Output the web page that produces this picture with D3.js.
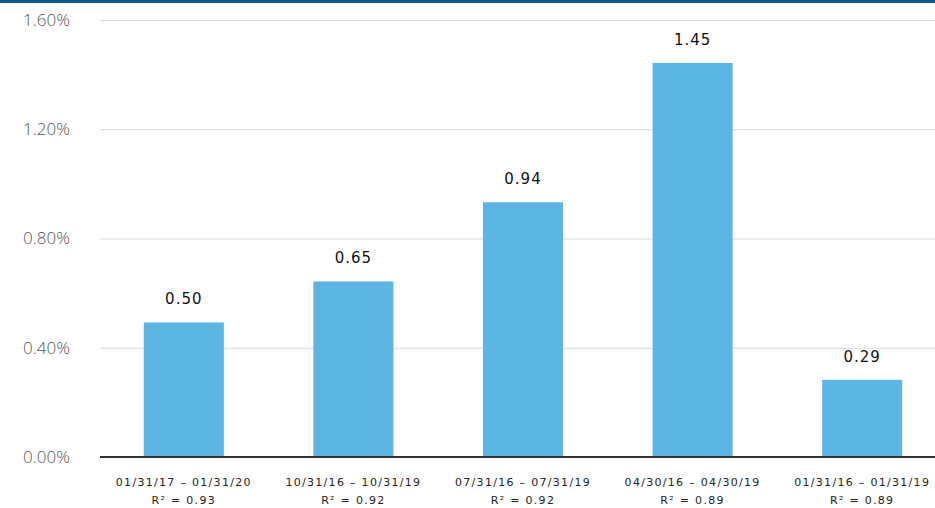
<!DOCTYPE html>
<html>
<head>
<meta charset="utf-8">
<script src="https://cdn.jsdelivr.net/npm/d3@7"></script>
<style>
  body { margin: 0; background: #fff; }
  .y-axis text { font-family: "Open Sans", sans-serif; font-weight: 300; font-size: 17px; fill: #555; }
  .bar-label { font-family: "DejaVu Sans", sans-serif; font-size: 15px; fill: #111; letter-spacing: 1px; }
  .x-label { font-family: "DejaVu Sans", sans-serif; font-size: 11px; fill: #222; letter-spacing: 1.3px; }
</style>
</head>
<body>
<div id="chart"></div>
<script>
// periods and their fitted R² values
var periods = ["01/31/17 - 01/31/20", "10/31/16 - 10/31/19", "07/31/16 - 07/31/19", "04/30/16 - 04/30/19", "01/31/16 - 01/31/19"];
var rSquared = ["0.93", "0.92", "0.92", "0.89", "0.89"];
var values = [0.50, 0.65, 0.94, 1.45, 0.29];
var yTicks = [0, 0.4, 0.8, 1.2, 1.6];

var width = 935, height = 508;
var margin = {top: 20, left: 100, right: 0, bottom: 51};

var svg = d3.select("#chart").append("svg")
    .attr("width", width)
    .attr("height", height);

// dark band along the top edge
svg.append("rect")
    .attr("x", 0).attr("y", 0)
    .attr("width", width).attr("height", 3)
    .attr("fill", "#0b5a8a");

var x = d3.scaleBand()
    .domain(periods)
    .range([99, 947])
    .paddingInner(0.528)
    .paddingOuter(0.264);

var y = d3.scaleLinear()
    .domain([0, 1.6])
    .range([height - margin.bottom, margin.top]);

// gridlines
svg.append("g")
    .selectAll("line")
    .data(yTicks.slice(1))
    .enter().append("line")
    .attr("x1", margin.left).attr("x2", width)
    .attr("y1", function (d) { return y(d) + 0.5; })
    .attr("y2", function (d) { return y(d) + 0.5; })
    .attr("stroke", "#d9d9d9")
    .attr("stroke-width", 1);

// Y axis labels
svg.append("g")
    .attr("class", "y-axis")
    .attr("transform", "translate(70,0)")
    .call(d3.axisLeft(y).tickValues(yTicks).tickSize(0).tickPadding(0)
        .tickFormat(function (d) { return d.toFixed(2) + "%"; }))
    .select(".domain").remove();

// bars
svg.append("g")
    .selectAll("rect")
    .data(values)
    .enter().append("rect")
    .attr("x", function (d, i) { return x(periods[i]); })
    .attr("y", function (d) { return y(d) + 2; })
    .attr("width", x.bandwidth())
    .attr("height", function (d) { return y(0) - y(d) - 2; })
    .attr("fill", "#5db5e3");

// value labels
svg.append("g")
    .selectAll("text")
    .data(values)
    .enter().append("text")
    .attr("class", "bar-label")
    .attr("text-anchor", "middle")
    .attr("x", function (d, i) { return x(periods[i]) + x.bandwidth() / 2; })
    .attr("y", function (d) { return y(d) - 16; })
    .text(function (d) { return d.toFixed(2); });

// baseline
svg.append("line")
    .attr("x1", margin.left).attr("x2", width)
    .attr("y1", y(0)).attr("y2", y(0))
    .attr("stroke", "#333")
    .attr("stroke-width", 2);

// category labels, two lines each
var xl = svg.append("g")
    .selectAll("text")
    .data(periods)
    .enter().append("text")
    .attr("class", "x-label")
    .attr("text-anchor", "middle")
    .attr("x", function (d) { return x(d) + x.bandwidth() / 2; })
    .attr("y", 486);

xl.append("tspan")
    .text(function (d) { return d.replace(" - ", " \u2013 "); });
xl.append("tspan")
    .attr("x", function (d) { return x(d) + x.bandwidth() / 2; })
    .attr("dy", 18)
    .text(function (d, i) { return "R\u00b2 = " + rSquared[i]; });
</script>
</body>
</html>
